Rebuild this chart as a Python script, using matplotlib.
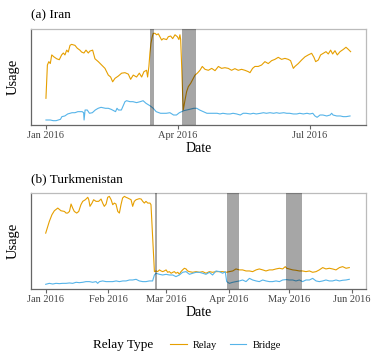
import matplotlib.pyplot as plt
import matplotlib.dates as mdates
import pandas as pd
from matplotlib.lines import Line2D
from matplotlib.offsetbox import HPacker

plt.rcParams['font.family'] = ['Liberation Serif', 'DejaVu Serif']

START = pd.Timestamp("2016-01-01")

# (a) Iran -- days since 2016-01-01 and usage (arbitrary scale)
iran_relay_day = [0, 1, 2, 3, 4, 5.5, 7.4, 9.2, 10.8, 12, 13.1, 14.3, 15.4, 16.6, 17.7, 20, 21.6,
                  23.4, 24.6, 26.2, 27.6, 29.2, 30.3, 32.2, 33.8, 36.1, 38.4, 40.7, 41.8, 43, 44.6,
                  46, 47.6, 49.9, 52.2, 54.5, 56.8, 58.4, 60.2, 62.5, 64.4, 66, 67.6, 69.4, 70.1,
                  71, 71.7, 72.4, 73.3, 74, 75.2, 76.3, 77.5, 78.6, 79.8, 80.9, 83.2, 84.4, 86,
                  87.4, 89, 90.6, 91.7, 92.4, 92.9, 93.6, 94.3, 94.7, 95.9, 97, 98.2, 99.8, 101.6,
                  102.8, 104.4, 106.2, 107.8, 109.7, 112, 114.3, 116.6, 118.9, 121.1, 123.4, 125.7,
                  128, 130.3, 132.6, 134.9, 137.2, 139.5, 140.7, 142.5, 144.1, 146.4, 148.7, 151,
                  153.3, 155.6, 157.9, 160.2, 162.5, 164.8, 167.1, 168.7, 170.6, 171.7, 174, 176.3,
                  178.6, 180.9, 183.2, 184.8, 186, 187.8, 189.4, 191.3, 193.1, 194.7, 196.3, 197.7,
                  199.3, 200.9, 202.8, 205.1, 206.9, 208.5, 210.1]
iran_relay = [27.8, 62.5, 66, 64, 73, 71, 69, 68, 73, 75, 73, 78, 76, 83, 84, 83, 80,
              78, 76, 75, 78, 75, 77, 78, 69, 66, 62.5, 59, 55.6, 52, 50,
              45, 48.6, 51, 54, 54.5, 53, 47.6, 52, 50, 54, 50, 55.6, 57, 50,
              61, 75, 85, 92, 95.5, 95.5, 94, 95, 92, 88.5, 90, 89, 92, 92.7,
              90, 94, 92, 89, 94, 89, 61, 29.5, 15.6, 26, 34.7, 40, 43.4, 48.6,
              52, 54, 57, 61, 58, 57, 59, 56.6, 61, 59, 59.7, 59,
              57, 58.7, 57, 58, 57, 55.6, 54.5, 59, 61, 61, 62.5, 66,
              64, 67, 68.4, 70.5, 68.4, 69.4, 68.4, 67, 59, 61, 64, 67.7,
              71, 73, 74.7, 70.5, 66, 67.7, 73, 74.7, 76.4, 74, 78, 74,
              77.4, 73, 76.4, 78.8, 81, 78.8, 76.4]

iran_bridge_day = [0, 3, 5, 7, 10, 11, 13, 15, 18, 20, 22, 25, 26, 26.3, 27, 28.5, 30, 32, 34, 36,
                   38, 41, 43, 45, 48, 49, 50, 52, 53, 54.5, 55.6, 58, 60, 62.5, 65, 67, 69, 72,
                   74, 76, 79, 81, 83, 85.5, 88, 90, 92, 95, 97, 99, 102, 104, 106, 108.5, 111,
                   113, 115, 118, 120, 122, 125, 127, 129, 131.5, 134, 136, 138, 141, 143, 145,
                   148, 150, 152, 154.5, 157, 159, 161, 164, 166, 168, 170.6, 173, 175, 177.5,
                   180, 182, 184, 185.5, 187, 189, 191, 193.6, 196, 197, 198, 200.5, 203, 205,
                   207, 209.7]
iran_bridge = [5.2, 5.2, 4.5, 4.5, 5.9, 8.7, 9.4, 11.5, 12.8, 12.8, 13.9, 13.9, 12.8, 5.2, 15.6,
               15.6, 12.2, 12.8, 15.6, 17.4, 18.4, 17.4, 17.4, 16.3, 13.9, 17.4, 15.6, 15.6,
               19.1, 24.3, 25.3, 24.3, 24.3, 23.3, 24.3, 25.3, 22.6, 19.8, 17.4, 13.9, 12.2,
               12.2, 12.2, 12.8, 10.4, 10.4, 12.8, 14.9, 15.6, 16.3, 17.4, 17.4, 15.6, 13.9,
               12.2, 12.2, 12.2, 12.2, 11.5, 12.2, 11.5, 11.5, 12.2, 11.5, 10.4, 12.2, 12.2,
               11.5, 12.2, 11.5, 12.2, 12.8, 12.2, 12.8, 12.2, 12.8, 12.2, 12.8, 12.2, 12.2,
               11.5, 11.5, 12.2, 11.5, 12.2, 11.5, 12.2, 9.4, 8, 10.4, 10.4, 9.4, 10.4, 12.2,
               10.4, 9.4, 9.4, 8.7, 8.7, 9.4]

iran_blocks = [(71.7, 74.5), (93.8, 103.6)]

# (b) Turkmenistan
turk_relay_day = [0, 1, 1.8, 3.1, 4.3, 6, 7.6, 9.3, 10.1, 10.9, 11.8, 12.6, 13.4, 14.2, 15.4, 16.4,
                  17.5, 18.4, 19.7, 20.9, 21.4, 22, 23, 23.8, 25, 26.3, 27.5, 28.3, 29.1, 30, 30.8,
                  31.6, 32.5, 33.3, 34.1, 34.9, 35.8, 36.6, 37.4, 38.2, 39.1, 39.9, 40.7, 42.4,
                  43.2, 44, 44.9, 46.5, 47.4, 48.2, 49, 49.8, 50.7, 51.8, 52.3, 52.8, 53.5, 54,
                  54.8, 55.6, 56.5, 57.3, 58.1, 58.9, 59.8, 60.6, 61.4, 62.3, 63.1, 63.9, 64.7,
                  65.6, 66.4, 67.2, 68, 68.9, 69.7, 70.5, 71.4, 73, 74.7, 76.3, 78, 79.6, 81.3,
                  82.9, 84.6, 86.3, 87.9, 89.6, 91.2, 92.9, 94.5, 96.2, 97.8, 99.5, 101.2, 102.8,
                  104.5, 106.1, 107.8, 109.4, 111.1, 112.7, 114.4, 116.1, 117.7, 119, 119.7, 121,
                  122.7, 124.3, 126, 127.6, 129.3, 131, 132.6, 134.3, 135.9, 137.6, 139.2, 140.9,
                  142.5, 144.2, 145.9, 147.5, 149.2, 150.8]
turk_relay = [58.2, 65.2, 70.4, 77.4, 81.5, 84.3, 81.5, 80.8, 79.1, 79.1, 80.8, 88.5, 84.3, 80.8,
              79.1, 80.8, 87.8, 91.3, 93, 95.5, 93, 86.1, 89.5, 93, 91.3, 91.3, 93.7, 89.5, 86.1,
              88.5, 95.5, 96.5, 93, 87.8, 89.5, 88.5, 80.8, 79.1, 87.8, 94.8, 96.5, 95.5, 94.8,
              93, 86.1, 91.3, 93, 94.1, 93.7, 91.3, 89.5, 91.3, 89.5, 89.5, 87.8, 66.9, 39,
              18.1, 18.8, 18.1, 19.9, 18.8, 18.1, 18.8, 19.9, 17.4, 18.1, 16.4, 17.4, 18.1,
              16.4, 17.4, 15.3, 18.1, 19.9, 21.6, 20.9, 18.8, 18.1, 17.4, 18.1, 17.4, 18.1,
              16.4, 18.1, 17.4, 18.1, 18.1, 18.1, 17.4, 18.1, 18.8, 20.9, 19.9, 19.9, 18.8,
              18.8, 18.1, 19.9, 20.9, 19.9, 18.8, 19.9, 19.9, 20.9, 21.6, 20.9, 23.3, 21.6,
              20.9, 19.9, 19.5, 18.8, 18.8, 18.1, 18.8, 17.4, 18.1, 19.9, 22.3, 20.9, 21.6,
              20.9, 19.9, 22.3, 23.3, 21.6, 22.3]

turk_bridge_day = [0, 1.8, 3.5, 5.1, 6.8, 8.4, 10.1, 11.8, 13.4, 15.1, 16.7, 18.4, 20, 21.7, 23.3,
                   25, 25.8, 26.7, 28.3, 30, 31.6, 33.3, 35, 36.6, 38.3, 39.9, 41.6, 43.2, 44.9,
                   46.5, 48.2, 49.8, 51.5, 53.1, 54, 54.8, 56.5, 58.1, 59.8, 61.4, 63.1, 64.7,
                   66.4, 68, 69.7, 71.4, 73, 74.7, 76.3, 78, 79.6, 81.3, 82.9, 84.6, 86.3, 87.9,
                   89.2, 89.9, 91.2, 92.9, 94.5, 96.2, 97.8, 99.5, 101.2, 102.8, 104.5, 106.1,
                   107.8, 109.4, 111.1, 112.7, 114.4, 116.1, 117.7, 119.4, 121, 122.7, 124.3,
                   126, 127.6, 129.3, 131, 132.6, 134.3, 135.9, 137.6, 139.2, 140.9, 142.5,
                   144.2, 145.9, 147.5, 149.2, 150.8]
turk_bridge = [4.9, 5.9, 5.2, 5.9, 5.6, 5.9, 5.9, 6.3, 5.9, 7, 6.6, 7, 7.7, 7.7, 7, 7.7, 5.9,
               7.7, 8.4, 7.7, 7.7, 7.7, 8.4, 7.7, 8.4, 8.4, 9.4, 9.4, 10.1, 8.4, 7.7, 7.7, 8.4,
               8.4, 14.6, 16.4, 15.3, 14.6, 15.3, 14.6, 14.6, 12.9, 14.6, 17.4, 18.1, 15.3,
               16.4, 17.4, 17.4, 16.4, 15.3, 17.4, 14.6, 18.8, 18.1, 16.4, 18.1, 7.7, 5.9, 7,
               7.7, 8.4, 9.4, 7.7, 11.1, 9.4, 8.4, 7.7, 9.4, 8.4, 7.7, 7.7, 8.4, 7.7, 9.4, 9.8,
               9.4, 9.4, 8.4, 9.4, 7.7, 9.4, 9.4, 11.1, 8.4, 7.7, 8.4, 9.4, 8.4, 8.4, 9.4, 8.4,
               9.1, 9.4, 10.1]

turk_blocks = [(54.5, 55.1), (90.2, 96.2), (119.4, 127.3)]

ORANGE = "#E69F00"
BLUE = "#56B4E9"


def to_dates(days):
    return [START + pd.Timedelta(days=d) for d in days]


def panel(ax, title, relay_day, relay, bridge_day, bridge, blocks, xlim, ticks):
    ax.plot(to_dates(relay_day), relay, color=ORANGE, lw=0.8, zorder=2)
    ax.plot(to_dates(bridge_day), bridge, color=BLUE, lw=0.8, zorder=2)
    # blocking periods, semi-transparent on top of the lines
    for a, b in blocks:
        ax.axvspan(START + pd.Timedelta(days=a), START + pd.Timedelta(days=b),
                   color="black", alpha=0.35, lw=0, zorder=3)
    ax.set_xlim(START + pd.Timedelta(days=xlim[0]), START + pd.Timedelta(days=xlim[1]))
    ax.set_ylim(0, 100)
    ax.set_yticks([])
    ax.set_xticks([pd.Timestamp(t) for t in ticks])
    ax.xaxis.set_major_formatter(mdates.DateFormatter("%b %Y"))
    ax.tick_params(axis="x", labelsize=7.5, length=3, width=0.8, color="#666666",
                   labelcolor="#444444", pad=1.5)
    for s in ["left", "bottom"]:
        ax.spines[s].set_color("#666666")
        ax.spines[s].set_linewidth(0.9)
    for s in ["top", "right"]:
        ax.spines[s].set_color("#bbbbbb")
        ax.spines[s].set_linewidth(0.9)
    ax.set_xlabel("Date", fontsize=10, labelpad=1)
    ax.set_ylabel("Usage", fontsize=10.5, labelpad=8)
    ax.set_title(title, fontsize=9.5, loc="left", x=-0.0, pad=8)


fig = plt.figure(figsize=(3.74, 3.6), dpi=100)
ax1 = fig.add_axes([0.0829, 0.6528, 0.8957, 0.2666])
ax2 = fig.add_axes([0.0829, 0.1972, 0.8957, 0.2667])

panel(ax1, "(a) Iran", iran_relay_day, iran_relay, iran_bridge_day, iran_bridge,
      iran_blocks, (-10.3, 220.7), ["2016-01-01", "2016-04-01", "2016-07-01"])
panel(ax2, "(b) Turkmenistan", turk_relay_day, turk_relay, turk_bridge_day, turk_bridge,
      turk_blocks, (-7.3, 159.1),
      ["2016-01-01", "2016-02-01", "2016-03-01", "2016-04-01", "2016-05-01", "2016-06-01"])

handles = [Line2D([], [], color=ORANGE, lw=0.8), Line2D([], [], color=BLUE, lw=0.8)]
leg = fig.legend(handles, ["Relay", "Bridge"], title="Relay Type", loc="center",
                 bbox_to_anchor=(0.5, 0.042), ncol=2, frameon=False, fontsize=7.5,
                 title_fontsize=9.5, handlelength=1.6, handletextpad=0.6, columnspacing=1.2)
# title to the left of the entries, like ggplot
box = leg._legend_box
box.__class__ = HPacker
box.sep = 12
box.align = "center"

fig.savefig("out.png", dpi=100)
